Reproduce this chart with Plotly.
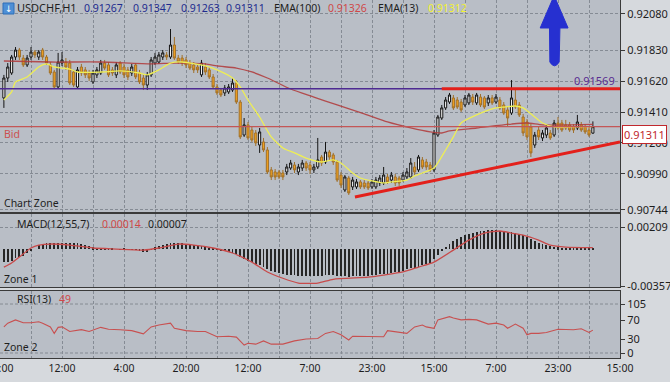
import plotly.graph_objects as go

# ---------------- data ----------------
bar_index = list(range(1, 154))

open_ = [0.91507,0.91643,0.91677,0.91786,0.91834,0.91779,0.91732,0.91786,0.91820,0.91786,
         0.91834,0.91786,0.91732,0.91684,0.91582,0.91745,0.91752,0.91745,0.91684,0.91582,
         0.91718,0.91698,0.91677,0.91616,0.91664,0.91677,0.91745,0.91732,0.91698,0.91664,
         0.91745,0.91718,0.91698,0.91677,0.91732,0.91677,0.91643,0.91595,0.91664,0.91745,
         0.91752,0.91786,0.91800,0.91786,0.91868,0.91779,0.91779,0.91766,0.91745,0.91732,
         0.91718,0.91664,0.91718,0.91698,0.91650,0.91582,0.91561,0.91541,0.91548,0.91561,
         0.91609,0.91479,0.91254,0.91323,0.91288,0.91268,0.91186,0.91207,0.91152,0.91016,
         0.91002,0.91002,0.90995,0.91002,0.91029,0.91050,0.91002,0.91029,0.91063,0.91050,
         0.91016,0.91036,0.91104,0.91070,0.91138,0.91118,0.91070,0.90981,0.90879,0.90961,
         0.90900,0.90900,0.90934,0.90927,0.90927,0.90900,0.90900,0.90927,0.90927,0.90968,
         0.90947,0.90968,0.90961,0.90947,0.90968,0.90968,0.91036,0.91016,0.91084,0.91070,
         0.91050,0.91016,0.91254,0.91370,0.91439,0.91479,0.91507,0.91493,0.91479,0.91459,
         0.91473,0.91513,0.91473,0.91513,0.91507,0.91473,0.91507,0.91479,0.91493,0.91459,
         0.91425,0.91404,0.91493,0.91459,0.91377,0.91343,0.91309,0.91186,0.91288,0.91234,
         0.91254,0.91268,0.91254,0.91336,0.91336,0.91323,0.91323,0.91309,0.91302,0.91323,
         0.91309,0.91288,0.91267]

high = [0.91664,0.91745,0.91800,0.91854,0.91848,0.91800,0.91800,0.91854,0.91834,0.91834,
        0.91848,0.91800,0.91752,0.91698,0.91814,0.91820,0.91779,0.91766,0.91698,0.91718,
        0.91739,0.91718,0.91698,0.91698,0.91718,0.91766,0.91766,0.91752,0.91718,0.91752,
        0.91759,0.91739,0.91718,0.91739,0.91745,0.91698,0.91664,0.91684,0.91786,0.91814,
        0.91820,0.91834,0.91820,0.91977,0.91923,0.91800,0.91800,0.91786,0.91766,0.91752,
        0.91739,0.91766,0.91745,0.91718,0.91670,0.91602,0.91575,0.91595,0.91602,0.91643,
        0.91629,0.91493,0.91370,0.91343,0.91309,0.91288,0.91302,0.91234,0.91172,0.91036,
        0.91022,0.91016,0.91016,0.91057,0.91084,0.91070,0.91057,0.91084,0.91077,0.91070,
        0.91057,0.91234,0.91118,0.91207,0.91152,0.91132,0.91084,0.91002,0.90981,0.90975,
        0.90968,0.90954,0.90947,0.90947,0.90941,0.90954,0.90968,0.90981,0.91036,0.90988,
        0.91002,0.90988,0.90975,0.91002,0.91029,0.91097,0.91070,0.91118,0.91104,0.91091,
        0.91070,0.91288,0.91391,0.91459,0.91513,0.91541,0.91527,0.91513,0.91500,0.91527,
        0.91541,0.91534,0.91541,0.91534,0.91520,0.91527,0.91527,0.91534,0.91513,0.91479,
        0.91445,0.91629,0.91575,0.91479,0.91398,0.91363,0.91329,0.91275,0.91309,0.91288,
        0.91323,0.91288,0.91357,0.91377,0.91357,0.91357,0.91343,0.91329,0.91391,0.91343,
        0.91329,0.91309,0.91347]

low = [0.91439,0.91616,0.91664,0.91766,0.91766,0.91718,0.91718,0.91766,0.91779,0.91766,
       0.91766,0.91732,0.91664,0.91568,0.91568,0.91725,0.91698,0.91595,0.91582,0.91568,
       0.91657,0.91643,0.91623,0.91602,0.91643,0.91664,0.91698,0.91650,0.91657,0.91643,
       0.91670,0.91643,0.91629,0.91657,0.91636,0.91602,0.91561,0.91561,0.91650,0.91732,
       0.91739,0.91766,0.91766,0.91773,0.91766,0.91739,0.91725,0.91711,0.91698,0.91677,
       0.91677,0.91650,0.91664,0.91636,0.91568,0.91527,0.91513,0.91520,0.91534,0.91548,
       0.91466,0.91227,0.91241,0.91220,0.91207,0.91179,0.91132,0.91138,0.90988,0.90947,
       0.90947,0.90954,0.90947,0.90981,0.91016,0.90995,0.90981,0.91009,0.91009,0.90988,
       0.90995,0.91022,0.91043,0.91057,0.91084,0.91050,0.90934,0.90893,0.90866,0.90845,
       0.90879,0.90886,0.90886,0.90886,0.90879,0.90886,0.90886,0.90906,0.90913,0.90920,
       0.90927,0.90906,0.90906,0.90934,0.90954,0.90954,0.90981,0.91002,0.91022,0.91016,
       0.91002,0.91002,0.91241,0.91357,0.91425,0.91466,0.91425,0.91432,0.91411,0.91445,
       0.91459,0.91459,0.91459,0.91445,0.91432,0.91452,0.91459,0.91466,0.91425,0.91391,
       0.91309,0.91391,0.91432,0.91377,0.91247,0.91220,0.91104,0.91166,0.91220,0.91213,
       0.91234,0.91220,0.91241,0.91288,0.91275,0.91288,0.91275,0.91268,0.91288,0.91275,
       0.91261,0.91241,0.91263]

close = [0.91643,0.91718,0.91786,0.91834,0.91786,0.91732,0.91779,0.91820,0.91800,0.91820,
         0.91786,0.91745,0.91677,0.91582,0.91752,0.91766,0.91718,0.91609,0.91595,0.91698,
         0.91677,0.91664,0.91643,0.91677,0.91698,0.91745,0.91711,0.91664,0.91677,0.91732,
         0.91684,0.91664,0.91650,0.91718,0.91650,0.91616,0.91595,0.91664,0.91766,0.91786,
         0.91800,0.91814,0.91786,0.91868,0.91779,0.91752,0.91745,0.91732,0.91711,0.91698,
         0.91698,0.91745,0.91684,0.91650,0.91582,0.91541,0.91527,0.91575,0.91582,0.91609,
         0.91479,0.91241,0.91323,0.91234,0.91220,0.91200,0.91275,0.91152,0.91002,0.90968,
         0.90968,0.90968,0.90968,0.91036,0.91063,0.91016,0.91036,0.91063,0.91029,0.91016,
         0.91036,0.91084,0.91063,0.91138,0.91104,0.91070,0.90947,0.90913,0.90968,0.90859,
         0.90947,0.90934,0.90900,0.90900,0.90893,0.90934,0.90947,0.90961,0.90981,0.90934,
         0.90981,0.90927,0.90927,0.90981,0.91002,0.91063,0.91002,0.91104,0.91036,0.91036,
         0.91016,0.91268,0.91377,0.91439,0.91493,0.91527,0.91439,0.91445,0.91425,0.91507,
         0.91527,0.91479,0.91527,0.91459,0.91445,0.91507,0.91473,0.91513,0.91439,0.91404,
         0.91370,0.91507,0.91445,0.91391,0.91268,0.91241,0.91132,0.91254,0.91241,0.91268,
         0.91302,0.91234,0.91336,0.91302,0.91288,0.91302,0.91288,0.91288,0.91343,0.91288,
         0.91275,0.91254,0.91311]

ema100_idx = [1, 13, 26, 39, 45, 53, 56, 61, 65, 69, 75, 81, 87, 94, 100, 106, 111, 114, 116,
              123, 132, 136, 140, 147, 153]
ema100_val = [0.91759, 0.91752, 0.91752, 0.91739, 0.91745, 0.91739, 0.91725, 0.91711, 0.91684,
              0.91643, 0.91568, 0.91513, 0.91459, 0.91398, 0.91343, 0.91302, 0.91275, 0.91268,
              0.91282, 0.91302, 0.91329, 0.91336, 0.91323, 0.91323, 0.91326]

ema13_idx = [1, 3, 4, 7, 10, 12, 14, 16, 18, 20, 26, 31, 36, 38, 41, 44, 47, 53, 56, 60, 62,
             64, 67, 70, 73, 76, 79, 83, 86, 88, 91, 93, 96, 99, 101, 105, 107, 109, 112, 115,
             117, 119, 123, 128, 130, 133, 135, 138, 140, 143, 147, 153]
ema13_val = [0.91493, 0.91548, 0.91616, 0.91650, 0.91718, 0.91739, 0.91718, 0.91711, 0.91704,
             0.91684, 0.91684, 0.91691, 0.91677, 0.91664, 0.91698, 0.91745, 0.91752, 0.91725,
             0.91698, 0.91643, 0.91582, 0.91493, 0.91377, 0.91241, 0.91166, 0.91132, 0.91097,
             0.91070, 0.91084, 0.91063, 0.90995, 0.90961, 0.90941, 0.90927, 0.90934, 0.90947,
             0.90975, 0.90995, 0.91029, 0.91152, 0.91241, 0.91336, 0.91391, 0.91439, 0.91445,
             0.91452, 0.91439, 0.91377, 0.91336, 0.91309, 0.91309, 0.91312]

macd_hist = [-0.00125,-0.00120,-0.00110,-0.00090,-0.00080,-0.00070,-0.00040,-0.00020,0.00000,
             0.00040,0.00050,0.00060,0.00060,0.00060,
             0.00060,0.00062,0.00062,0.00060,0.00058,0.00055,
             0.00045,0.00035,0.00025,0.00015,0.00010,0.00005,
             0.00010,0.00008,0.00003,0.00000,-0.00005,0.00002,0.00000,-0.00005,-0.00008,-0.00015,
             -0.00025,-0.00028,
             -0.00005,0.00015,0.00030,0.00040,
             0.00050,0.00060,0.00062,0.00060,0.00055,0.00050,
             0.00042,0.00035,0.00030,0.00025,0.00018,0.00010,
             0.00002,-0.00008,-0.00015,-0.00022,
             -0.00030,-0.00035,-0.00045,-0.00075,
             -0.00100,-0.00112,-0.00125,-0.00140,
             -0.00155,-0.00170,-0.00190,-0.00210,
             -0.00222,-0.00232,-0.00240,-0.00246,
             -0.00250,-0.00252,-0.00255,-0.00256,-0.00258,-0.00258,-0.00257,-0.00256,-0.00255,
             -0.00253,-0.00252,-0.00250,
             -0.00255,-0.00260,-0.00262,-0.00265,-0.00262,-0.00260,-0.00258,-0.00256,-0.00254,
             -0.00250,-0.00246,-0.00242,-0.00238,-0.00235,
             -0.00228,-0.00222,-0.00216,-0.00210,
             -0.00195,-0.00185,-0.00178,-0.00172,
             -0.00155,-0.00142,-0.00130,
             -0.00100,-0.00060,-0.00020,
             0.00020,0.00050,0.00078,0.00100,
             0.00118,0.00132,0.00148,0.00158,
             0.00166,0.00172,0.00176,0.00178,0.00180,0.00180,
             0.00176,0.00172,0.00166,
             0.00162,0.00155,0.00145,
             0.00130,0.00112,0.00092,0.00078,
             0.00062,0.00050,0.00040,0.00030,
             0.00022,0.00018,0.00012,0.00010,
             0.00009,0.00008,0.00008,0.00007,0.00007,0.00007,0.00007]

macd_sig_idx = [1, 3, 5, 8, 10, 13, 18, 24, 30, 37, 41, 46, 50, 55, 60, 65, 69, 73, 77, 82, 86,
                95, 99, 104, 108, 112, 117, 121, 125, 129, 132, 135, 139, 142, 146, 153]
macd_sig_val = [-0.00173, -0.00134, -0.00077, 0.00010, 0.00038, 0.00048, 0.00038, 0.00010, 0.00000,
                -0.00010, 0.00010, 0.00048, 0.00038, 0.00010, -0.00038, -0.00125, -0.00220,
                -0.00280, -0.00326, -0.00326, -0.00290, -0.00270, -0.00250, -0.00220, -0.00173,
                -0.00125, -0.00010, 0.00086, 0.00153, 0.00173, 0.00153, 0.00134, 0.00086,
                0.00038, 0.00019, 0.00014]

rsi_idx = [1, 2, 4, 6, 8, 10, 11, 13, 14, 15, 16, 18, 21, 23, 26, 28, 31, 34, 37, 39, 41, 44,
           45, 48, 51, 53, 56, 59, 61, 63, 64, 66, 68, 70, 73, 76, 79, 82, 84, 86, 88, 90, 91,
           93, 96, 99, 100, 103, 105, 107, 109, 110, 112, 113, 116, 117, 119, 121, 123, 126,
           128, 130, 131, 133, 135, 136, 137, 139, 141, 144, 147, 148, 150, 152, 153]
rsi_val = [56, 64, 71, 65, 65, 67, 64, 56, 42, 55, 56, 46, 50, 46, 55, 51, 50, 48, 41, 56, 60,
           64, 53, 48, 46, 46, 35, 36, 34, 17, 21, 19, 26, 19, 19, 26, 30, 31, 42, 46, 39, 28,
           36, 36, 35, 35, 48, 44, 42, 56, 60, 56, 53, 71, 78, 75, 71, 72, 71, 62, 64, 60, 53,
           62, 53, 39, 42, 42, 44, 51, 50, 50, 52, 44, 49]

x_tick_pos = [0, 16, 32, 48, 64, 80, 96, 112, 128, 144, 160]
x_tick_text = ["20:00", "12:00", "4:00", "20:00", "12:00", "7:00", "23:00", "15:00", "7:00",
               "23:00", "15:00"]
price_ticks = [0.92080, 0.91830, 0.91620, 0.91410, 0.91200, 0.90990, 0.90744]
macd_ticks = [0.00209, -0.00357]
rsi_ticks = [105, 70, 30, 0]

level_purple = 0.91569
bid_price = 0.91311
resistance = [(114, 0.91569), (160, 0.91569)]
support = [(91.6, 0.90831), (160, 0.91207)]

# ---------------- geometry helpers (pixel -> paper) ----------------
W, H = 670, 382
PLOT_W, PLOT_H = 620, 358


def px(xp):
    return xp / PLOT_W


def py(yp):
    return (PLOT_H - yp) / PLOT_H


FONT = "Noto Sans, Open Sans, DejaVu Sans"
TXT = "#1e1e1e"
GRID = "#858b94"
BORDER = "#3a3a3a"

fig = go.Figure()

fig.add_trace(go.Candlestick(
    x=bar_index, open=open_, high=high, low=low, close=close,
    increasing=dict(fillcolor="#f4f4f4", line=dict(color="#151515", width=1)),
    decreasing=dict(fillcolor="#f2a21e", line=dict(color="#a0702a", width=1)),
    whiskerwidth=0, xaxis="x", yaxis="y", showlegend=False, hoverinfo="skip"))

fig.add_trace(go.Scatter(x=ema100_idx, y=ema100_val, mode="lines",
                         line=dict(color="rgba(176,56,56,0.85)", width=1.3, shape="spline",
                                   smoothing=0.6),
                         xaxis="x", yaxis="y", showlegend=False, hoverinfo="skip"))
fig.add_trace(go.Scatter(x=ema13_idx, y=ema13_val, mode="lines",
                         line=dict(color="#eeee55", width=1.3, shape="spline", smoothing=0.6),
                         xaxis="x", yaxis="y", showlegend=False, hoverinfo="skip"))

fig.add_trace(go.Bar(x=bar_index, y=macd_hist, width=0.24,
                     marker=dict(color="#262626", line=dict(width=0)),
                     xaxis="x2", yaxis="y2", showlegend=False, hoverinfo="skip"))
fig.add_trace(go.Scatter(x=macd_sig_idx, y=macd_sig_val, mode="lines",
                         line=dict(color="#c84a4a", width=1.3, shape="spline", smoothing=0.6),
                         xaxis="x2", yaxis="y2", showlegend=False, hoverinfo="skip"))

fig.add_trace(go.Scatter(x=rsi_idx, y=rsi_val, mode="lines",
                         line=dict(color="#c85050", width=1.1),
                         xaxis="x3", yaxis="y3", showlegend=False, hoverinfo="skip"))

xcommon = dict(range=[0, 160], tickmode="array", tickvals=x_tick_pos, ticktext=x_tick_text,
               showgrid=True, gridcolor=GRID, gridwidth=1, griddash="3px,2px",
               minor=dict(dtick=8, tick0=0, showgrid=True, gridcolor=GRID, griddash="3px,2px",
                          gridwidth=1),
               zeroline=False, showline=True, mirror=True, linecolor=BORDER, linewidth=1,
               fixedrange=True, automargin=False)

ycommon = dict(side="right", tickmode="array", zeroline=False,
               ticks="outside", ticklen=4, tickcolor=BORDER,
               showline=True, mirror=True, linecolor=BORDER, fixedrange=True,
               automargin=False, ticklabeloverflow="allow", tickfont=dict(size=11, color=TXT))

fig.update_layout(
    width=W, height=H,
    margin=dict(l=0, r=W - PLOT_W, t=0, b=H - PLOT_H, autoexpand=False),
    paper_bgcolor="#d6d9dd", plot_bgcolor="#b9bec6",
    font=dict(family=FONT, size=11, color=TXT),
    bargap=0, boxgap=0.22,
    xaxis=dict(**xcommon, domain=[0, 1], anchor="y", showticklabels=False,
               rangeslider=dict(visible=False)),
    xaxis2=dict(**xcommon, domain=[0, 1], anchor="y2", matches="x", showticklabels=False),
    xaxis3=dict(**xcommon, domain=[0, 1], anchor="y3", matches="x", showticklabels=True,
                ticks="", tickfont=dict(size=10.5, color=TXT), ticklabeloverflow="allow"),
    yaxis=dict(**ycommon, domain=[py(212), 1], range=[0.90729, 0.92175],
               tickvals=price_ticks, ticktext=["%.5f" % v for v in price_ticks],
               showgrid=True, gridcolor=GRID, griddash="3px,2px"),
    yaxis2=dict(**ycommon, domain=[py(287), py(214)], range=[-0.00364, 0.00336],
                anchor="x2", tickvals=macd_ticks, ticktext=["0.00209", "-0.00357"],
                showgrid=True, gridcolor=GRID, griddash="3px,2px"),
    yaxis3=dict(**ycommon, domain=[0, py(291)], range=[-10.7, 132.9], anchor="x3",
                tickvals=rsi_ticks, ticktext=[str(v) for v in rsi_ticks], showgrid=False),
)

shapes = []
# RSI grid at 105 and 0
for lv in (105, 0):
    shapes.append(dict(type="line", xref="x3 domain", x0=0, x1=1, yref="y3", y0=lv, y1=lv,
                       line=dict(color=GRID, width=1, dash="3px,2px"), layer="below"))
shapes.append(dict(type="line", xref="x domain", x0=0, x1=1, yref="y", y0=level_purple,
                   y1=level_purple, line=dict(color="#4e2a92", width=1.5)))
shapes.append(dict(type="line", xref="x domain", x0=0, x1=1, yref="y", y0=bid_price,
                   y1=bid_price, line=dict(color="#c45656", width=1.2)))
shapes.append(dict(type="line", xref="x", yref="y", x0=resistance[0][0], y0=resistance[0][1],
                   x1=resistance[1][0], y1=resistance[1][1],
                   line=dict(color="#e3201b", width=3)))
shapes.append(dict(type="line", xref="x", yref="y", x0=support[0][0], y0=support[0][1],
                   x1=support[1][0], y1=support[1][1],
                   line=dict(color="#e3201b", width=3)))
# blue up arrow (drawing object)
shapes.append(dict(type="path", xref="x", yref="y",
                   path="M 141.8 0.91984 L 139.4 0.91984 L 143.0 0.92205 L 146.6 0.91984 "
                        "L 144.5 0.91984 L 144.3 0.91752 Q 143.1 0.91700 141.9 0.91752 Z",
                   fillcolor="#2630d0", line=dict(color="#2630d0", width=1)))
# symbol icon
shapes.append(dict(type="rect", xref="paper", yref="paper", x0=px(3), x1=px(14),
                   y0=py(14), y1=py(3), fillcolor="#4d8fd6", line=dict(color="#2f6fb8", width=1)))
fig.update_layout(shapes=shapes)

ann = []


def text(xp, yp, s, color=TXT, size=11, xanchor="left", **kw):
    ann.append(dict(xref="paper", yref="paper", x=px(xp), y=py(yp), text=s, showarrow=False,
                    xanchor=xanchor, yanchor="middle", font=dict(size=size, color=color,
                                                                 family=FONT), **kw))


NAVY = "#1f2c8f"
text(8.5, 8.5, "↓", color="white", size=9, xanchor="center")
text(15, 8, "USDCHF,H1", size=11)
text(82, 8, "0.91267", color=NAVY, size=10.5)
text(131, 8, "0.91347", color=NAVY, size=10.5)
text(179, 8, "0.91263", color=NAVY, size=10.5)
text(224, 8, "0.91311", color=NAVY, size=10.5)
text(272, 8, "EMA(100)", size=10.5)
text(326, 8, "0.91326", color="#d04848", size=10.5)
text(376, 8, "EMA(13)", size=10.5)
text(426, 8, "0.91312", color="#f2f230", size=10.5)

text(617, 80, "0.91569", color="#5a2d91", size=11, xanchor="right")
text(2, 134, "Bid", color="#cc5050", size=10.5)
text(2, 203, "Chart Zone", size=10.5)
text(622, 134, "0.91311", color="#c0282d", size=11, bgcolor="white", bordercolor="#c0282d",
     borderwidth=1, borderpad=1)

text(15, 224, "MACD(12,55,7)", size=10.5)
text(100, 224, "0.00014", color="#d04848", size=10.5)
text(146, 224, "0.00007", size=10.5)
text(2, 279, "Zone 1", size=10.5)

text(15, 299, "RSI(13)", size=10.5)
text(57, 299, "49", color="#d04848", size=10.5)
text(2, 347, "Zone 2", size=10.5)

fig.update_layout(annotations=ann)

fig.write_html("out.html", config={"displayModeBar": False},
               post_script="document.body.style.margin='0';document.body.style.overflow='hidden';")
